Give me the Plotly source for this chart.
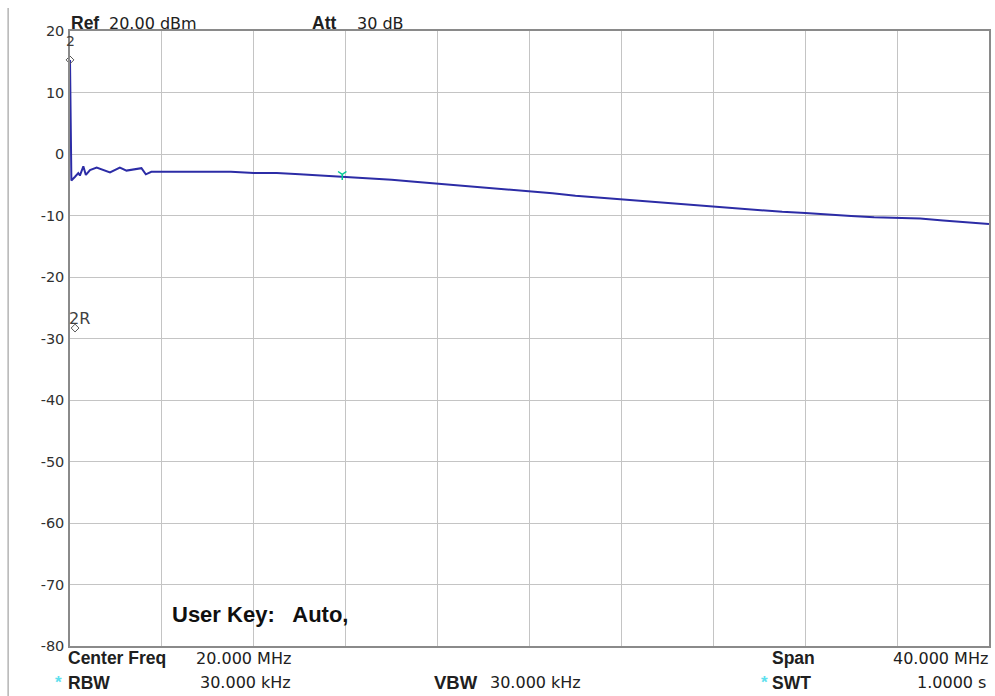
import plotly.graph_objects as go

# Spectrum trace (frequency in MHz, level in dBm)
freq_start = [0.0, 0.03, 0.06, 0.22, 0.36, 0.43, 0.58, 0.69, 0.87, 1.16, 1.43,
              1.74, 2.17, 2.46, 3.11, 3.30, 3.54]
level_start = [15.3, 5.0, -4.3, -3.7, -3.1, -3.5, -2.0, -3.4, -2.6, -2.2, -2.6,
               -3.0, -2.2, -2.7, -2.3, -3.3, -2.9]

freq_sweep = [4, 5, 6, 7, 8, 9, 10, 11, 12, 13, 14, 15, 16, 17, 18, 19, 20, 21,
              22, 23, 24, 25, 26, 27, 28, 29, 30, 31, 32, 33, 34, 35, 36, 37,
              38, 39, 40]
level_sweep = [-2.9, -2.9, -2.9, -2.9, -3.1, -3.1, -3.3, -3.5, -3.7, -3.9, -4.2,
               -4.5, -4.8, -5.1, -5.4, -5.8, -6.1, -6.4, -6.8, -7.1, -7.4, -7.7,
               -8.0, -8.3, -8.6, -8.8, -9.1, -9.4, -9.6, -9.9, -10.1, -10.3,
               -10.4, -10.5, -10.8, -11.1, -11.4]

# Markers
marker2 = (0.0, 15.3)
marker2r = (0.22, -28.3)
marker1 = (11.85, -3.3)

y_ticks = [20, 10, 0, -10, -20, -30, -40, -50, -60, -70, -80]

W, H = 995, 696
L, R, T, B = 70, 4, 31, 50
PW, PH = W - L - R, H - T - B

NORMAL = "DejaVu Sans, Verdana, sans-serif"
BOLD = "Liberation Sans, Arial, sans-serif"


def px(x):
    return (x - L) / PW


def py(y):
    return (H - B - y) / PH


trace_color = "#2c2ca6"
fig = go.Figure()
fig.add_trace(go.Scatter(x=freq_start + freq_sweep, y=level_start + level_sweep,
                         mode="lines", line=dict(color=trace_color, width=2),
                         cliponaxis=False))
fig.add_trace(go.Scatter(x=[marker2[0], marker2r[0]], y=[marker2[1], marker2r[1]],
                         mode="markers", cliponaxis=False,
                         marker=dict(symbol="diamond-open", size=6,
                                     color="#555555", line=dict(width=1))))
fig.add_trace(go.Scatter(x=[marker1[0]], y=[marker1[1]], mode="markers",
                         marker=dict(symbol="y-down-open", size=7,
                                     line=dict(color="#5ee0ee", width=1.5))))

fig.update_layout(
    width=W, height=H, autosize=False,
    margin=dict(l=L, r=R, t=T, b=B),
    paper_bgcolor="white", plot_bgcolor="white",
    showlegend=False,
    font=dict(family=NORMAL, color="#202020", size=16),
    xaxis=dict(range=[0, 40], dtick=4, tick0=0, showticklabels=False,
               showgrid=True, gridcolor="#c4c4c4", gridwidth=1, zeroline=False,
               showline=True, mirror=True, linecolor="#8a8a8a", linewidth=1.5,
               ticks=""),
    yaxis=dict(range=[-80, 20], tickvals=y_ticks, ticktext=[str(v) for v in y_ticks],
               showgrid=True, gridcolor="#c4c4c4", gridwidth=1, zeroline=False,
               showline=True, mirror=True, linecolor="#8a8a8a", linewidth=1.5,
               ticks="", ticklabelstandoff=1,
               tickfont=dict(family=NORMAL, size=14.5, color="#303030")),
)

# Outer frame edge on the left
fig.add_shape(type="line", xref="paper", yref="paper",
              x0=px(8), x1=px(8), y0=py(8), y1=py(696),
              line=dict(color="#b4b4b4", width=1.5))


def label(text, x, y, anchor="left", bold=False, size=16, color="#202020"):
    family = NORMAL
    if bold:
        text = "<b>" + text + "</b>"
        family = BOLD
    fig.add_annotation(text=text, xref="paper", yref="paper", x=px(x), y=py(y),
                       xanchor=anchor, yanchor="middle", showarrow=False,
                       borderpad=0, font=dict(family=family, size=size, color=color))


label("Ref", 70, 23, bold=True, size=17.5)
label("20.00 dBm", 108, 23)
label("Att", 312, 23, bold=True, size=17.5)
label("30 dB", 357, 23)

label("2", 70, 41, anchor="center", size=14, color="#404040")
label("2R", 68, 318, color="#404040")

label("User Key:   Auto,", 171, 614, bold=True, size=22, color="#101010")

label("Center Freq", 67, 658, bold=True, size=17.5)
label("20.000 MHz", 195, 658)
label("*", 58, 683, anchor="center", bold=True, size=17, color="#5ee0ee")
label("RBW", 67, 683, bold=True, size=17.5)
label("30.000 kHz", 199, 683)
label("VBW", 434, 683, bold=True, size=18.5)
label("30.000 kHz", 490, 683)
label("Span", 773, 658, bold=True, size=17.5)
label("40.000 MHz", 991, 658, anchor="right")
label("*", 766, 683, anchor="center", bold=True, size=17, color="#5ee0ee")
label("SWT", 773, 683, bold=True, size=17.5)
label("1.0000 s", 989, 683, anchor="right")

fig.write_html("out.html")
